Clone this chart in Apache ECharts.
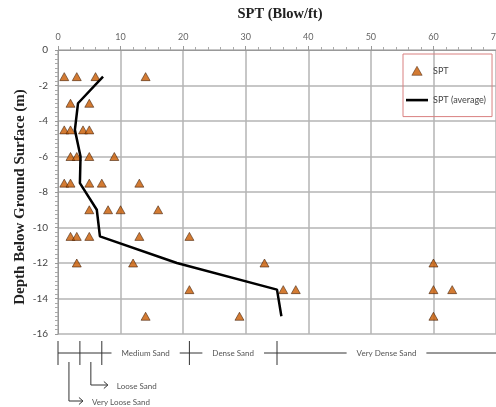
<!DOCTYPE html>
<html>
<head>
<meta charset="utf-8">
<script src="https://cdn.jsdelivr.net/npm/echarts@6/dist/echarts.min.js"></script>
<style>html,body{margin:0;padding:0;background:#fff}#c{width:496px;height:407px}</style>
</head>
<body>
<div id="c"></div>
<script>
// ---- data ----
const sptValues = [1, 3, 6, 14,  2, 5,  1, 2, 4, 5,  2, 3, 5, 9,  1, 2, 5, 7, 13,  5, 8, 10, 16,  2, 3, 5, 13, 21,  3, 12, 33, 60,  21, 36, 38, 60, 63,  14, 29, 60];
const sptDepths = [-1.5, -1.5, -1.5, -1.5,  -3, -3,  -4.5, -4.5, -4.5, -4.5,  -6, -6, -6, -6,  -7.5, -7.5, -7.5, -7.5, -7.5,  -9, -9, -9, -9,  -10.5, -10.5, -10.5, -10.5, -10.5,  -12, -12, -12, -12,  -13.5, -13.5, -13.5, -13.5, -13.5,  -15, -15, -15];
const avgValues = [7.2, 3.2, 2.7, 3.6, 3.5, 6.2, 6.7, 19, 35, 35.7];
const avgDepths = [-1.5, -3, -4.5, -6, -7.5, -9, -10.5, -12, -13.5, -15];
const sandBounds = [0, 3.5, 7, 21, 35, 70];
const sandLabels = ['Medium Sand', 'Dense Sand', 'Very Dense Sand'];
const sandArrowLabels = ['Very Loose Sand', 'Loose Sand'];

const chart = echarts.init(document.getElementById('c'), null, {renderer: 'canvas'});
const FONT = 'Lato, "Open Sans", sans-serif';
const SERIF = '"Liberation Serif", serif';
const option = {
  backgroundColor: '#fff',
  animation: false,
  legend: {
    left: 403, top: 54, orient: 'vertical',
    padding: [12, 6, 12, 3], itemGap: 20, itemWidth: 22, itemHeight: 9,
    borderColor: '#d98080', borderWidth: 1,
    textStyle: {fontFamily: FONT, fontSize: 9, color: '#444'},
    data: [
      {name: 'SPT', icon: 'path://M4 0L8 7L0 7Z', itemStyle: {color: '#c85a00', borderColor: '#3a1800', borderWidth: 0.6}},
      {name: 'SPT (average)', icon: 'path://M0 0H22V2.6H0Z', itemStyle: {color: '#000'}}
    ]
  },
  grid: {left: 58, right: 0, top: 50, bottom: 73, outerBoundsMode: 'none', containLabel: false},
  xAxis: {
    type: 'value', position: 'top', min: 0, max: 70, interval: 10,
    axisLine: {lineStyle: {color: '#999', width: 1}},
    axisTick: {show: true, length: 4, lineStyle: {color: '#999'}},
    minorTick: {show: true, splitNumber: 5, length: 3, lineStyle: {color: '#aaa'}},
    axisLabel: {fontFamily: FONT, fontSize: 9, color: '#666', margin: 8},
    splitLine: {show: true, lineStyle: {color: '#b4b4b4', width: 1.5}}
  },
  yAxis: {
    type: 'value', min: -16, max: 0, interval: 2,
    axisLine: {show: true, lineStyle: {color: '#999', width: 1}},
    axisTick: {show: true, length: 3, lineStyle: {color: '#999'}},
    minorTick: {show: true, splitNumber: 8, length: 3, lineStyle: {color: '#aaa'}},
    axisLabel: {fontFamily: FONT, fontSize: 10, color: '#444', margin: 10},
    splitLine: {show: true, lineStyle: {color: '#b4b4b4', width: 1.5}}
  },
  series: [
    {
      name: 'SPT', type: 'scatter', symbol: 'triangle', symbolSize: [9, 8],
      itemStyle: {color: '#c85a00', borderColor: '#3a1800', borderWidth: 0.7},
      data: sptValues.map((v, i) => [v, sptDepths[i]]), z: 3
    },
    {
      name: 'SPT (average)', type: 'line', symbol: 'none',
      lineStyle: {color: '#000', width: 2.5}, itemStyle: {color: '#000'},
      data: avgValues.map((v, i) => [v, avgDepths[i]]), z: 4
    }
  ]
};
chart.setOption(option);

// ---- titles + sand classification annotation ----
const px = v => chart.convertToPixel({xAxisIndex: 0}, v);
const barY = 353, tickTop = 341, tickBot = 365;
const g = [];
g.push({type: 'text', x: 280, y: 14, style: {text: 'SPT (Blow/ft)', fontFamily: SERIF, fontWeight: 'bold', fontSize: 14.5, fill: '#222', align: 'center', verticalAlign: 'middle'}});
g.push({type: 'text', x: 20, y: 197, rotation: Math.PI / 2, style: {text: 'Depth Below Ground Surface (m)', fontFamily: SERIF, fontWeight: 'bold', fontSize: 15, fill: '#222', align: 'center', verticalAlign: 'middle'}});
const lineColor = '#333';
g.push({type: 'line', shape: {x1: px(sandBounds[0]), y1: barY, x2: px(sandBounds[5]), y2: barY}, style: {stroke: lineColor, lineWidth: 1}});
for (let i = 0; i < 5; i++) {
  g.push({type: 'line', shape: {x1: px(sandBounds[i]), y1: tickTop, x2: px(sandBounds[i]), y2: tickBot}, style: {stroke: lineColor, lineWidth: 1}});
}
for (let i = 0; i < 3; i++) {
  const cx = (px(sandBounds[i + 2]) + px(sandBounds[i + 3])) / 2;
  g.push({type: 'text', x: cx, y: barY, z: 10, style: {text: sandLabels[i], fontFamily: FONT, fontSize: 8, fill: '#555', align: 'center', verticalAlign: 'middle', backgroundColor: '#fff', padding: [3, 10]}});
}
// arrows
const arrowDefs = [
  {x: (px(sandBounds[0]) + px(sandBounds[1])) / 2, yEnd: 401, len: 14, label: sandArrowLabels[0]},
  {x: (px(sandBounds[1]) + px(sandBounds[2])) / 2, yEnd: 385, len: 17, label: sandArrowLabels[1]}
];
arrowDefs.forEach(a => {
  g.push({type: 'polyline', shape: {points: [[a.x, 362], [a.x, a.yEnd], [a.x + a.len, a.yEnd]]}, style: {stroke: lineColor, lineWidth: 1, fill: null}});
  g.push({type: 'polyline', shape: {points: [[a.x + a.len - 4, a.yEnd - 3.5], [a.x + a.len, a.yEnd], [a.x + a.len - 4, a.yEnd + 3.5]]}, style: {stroke: lineColor, lineWidth: 1, fill: null}});
  g.push({type: 'text', x: a.x + a.len + 9, y: a.yEnd + 1, style: {text: a.label, fontFamily: FONT, fontSize: 8, fill: '#555', align: 'left', verticalAlign: 'middle'}});
});
chart.setOption({graphic: g});
</script>
</body>
</html>
